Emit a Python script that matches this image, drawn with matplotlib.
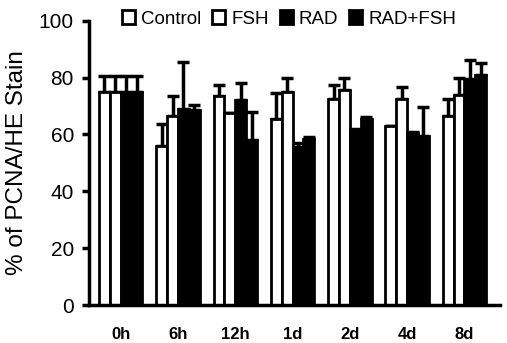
import matplotlib
matplotlib.use("Agg")
import matplotlib.pyplot as plt
import numpy as np
from matplotlib.patches import Patch

plt.rcParams['font.family'] = ['Liberation Sans', 'DejaVu Sans']

# data
time_points = ['0h', '6h', '12h', '1d', '2d', '4d', '8d']
groups = ['Control', 'FSH', 'RAD', 'RAD+FSH']
control = [75, 56, 73.5, 65.5, 72.5, 63, 66.5]
fsh = [75, 66.5, 67.5, 75, 75.5, 72.5, 74]
rad = [75, 69, 72, 55.5, 61.5, 60.5, 79.5]
rad_fsh = [75, 68.5, 58, 58.5, 65.5, 59.5, 81]
control_err = [5.5, 7.5, 4, 9, 5, 0, 6]
fsh_err = [5.5, 7, 0, 5, 4.5, 4, 6]
rad_err = [5.5, 16.5, 6, 1.5, 0.5, 0.5, 6.5]
rad_fsh_err = [5.5, 2, 10, 0.5, 0.5, 10, 4]

values = [control, fsh, rad, rad_fsh]
errors = [control_err, fsh_err, rad_err, rad_fsh_err]
colors = ['white', 'white', 'black', 'black']

fig = plt.figure(figsize=(5.07, 3.43), dpi=100)
ax = fig.add_axes([0.176, 0.11, 0.81, 0.83])

x = np.arange(len(time_points))
width = 0.19
offsets = (np.arange(4) - 1.5) * width
for vals, errs, col, off in zip(values, errors, colors, offsets):
    ax.bar(x + off, vals, width, color=col, edgecolor='black', linewidth=2.0, zorder=2)
    ax.errorbar(x + off, vals, yerr=[np.zeros(len(errs)), errs], fmt='none',
                ecolor='black', elinewidth=2.5, capsize=4, capthick=2.5, zorder=1)

ax.set_ylim(0, 100)
ax.set_xlim(-0.55, 6.62)
ax.set_yticks([0, 20, 40, 60, 80, 100])
ax.set_xticks(x)
ax.set_xticklabels(time_points, fontsize=12, fontweight='bold')
ax.tick_params(axis='x', length=0, pad=16)
ax.tick_params(axis='y', labelsize=15, width=2.5, length=5, direction='out', pad=6)
ax.set_ylabel('% of PCNA/HE Stain', fontsize=17.5)
ax.yaxis.set_label_coords(-0.15, 0.5)
for s in ['top', 'right']:
    ax.spines[s].set_visible(False)
for s in ['left', 'bottom']:
    ax.spines[s].set_linewidth(2.5)

handles = [Patch(facecolor=c, edgecolor='black', linewidth=2) for c in colors]
fig.legend(handles, groups, loc='center', bbox_to_anchor=(0.57, 0.945), ncol=4,
           frameon=False, fontsize=13.5, handlelength=0.7, handleheight=0.8,
           handletextpad=0.3, columnspacing=0.6, borderpad=0)

fig.savefig('out.png', dpi=100)
